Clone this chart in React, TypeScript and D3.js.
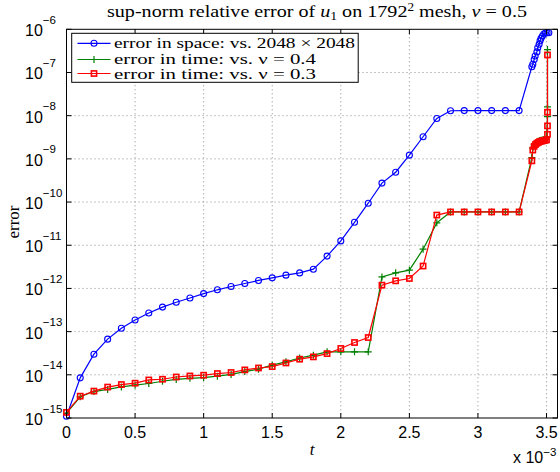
import React from "react";
import * as d3 from "d3";

// ---- data (t in units of 1e-3) ----
const spaceT = [0, 0.1, 0.2, 0.3, 0.4, 0.5, 0.6, 0.7, 0.8, 0.9, 1.0, 1.1, 1.2, 1.3, 1.4, 1.5, 1.6, 1.7, 1.8, 1.9, 2.0, 2.1, 2.2, 2.3, 2.4, 2.5, 2.6, 2.7, 2.8, 2.9, 3.0, 3.1, 3.2, 3.3,
  3.393, 3.4, 3.41, 3.417, 3.43, 3.436, 3.446, 3.453, 3.46, 3.47, 3.48, 3.492, 3.504, 3.517];
const spaceErr = [1.1e-15, 8.5e-15, 3.0e-14, 6.7e-14, 1.2e-13, 1.86e-13, 2.7e-13, 3.7e-13, 4.8e-13, 6.0e-13, 7.6e-13, 9.3e-13, 1.11e-12, 1.3e-12, 1.53e-12, 1.76e-12, 2.03e-12, 2.29e-12, 2.79e-12, 5.6e-12, 1.26e-11, 3.4e-11, 9.4e-11, 2.75e-10, 4.9e-10, 1.22e-9, 3.25e-9, 8.6e-9, 1.3e-8, 1.31e-8, 1.31e-8, 1.31e-8, 1.31e-8, 1.31e-8,
  1.36e-7, 1.55e-7, 2.0e-7, 2.4e-7, 3.0e-7, 3.75e-7, 4.5e-7, 5.4e-7, 6.2e-7, 7.0e-7, 7.8e-7, 8.2e-7, 8.3e-7, 8.3e-7];

const time04T = [0, 0.1, 0.2, 0.3, 0.4, 0.5, 0.6, 0.7, 0.8, 0.9, 1.0, 1.1, 1.2, 1.3, 1.4, 1.5, 1.6, 1.7, 1.8, 1.9, 2.0, 2.1, 2.2, 2.3, 2.4, 2.5, 2.6, 2.7, 2.8, 2.9, 3.0, 3.1, 3.2, 3.3,
  3.393, 3.4, 3.41, 3.42, 3.43, 3.44, 3.45, 3.46, 3.47, 3.48, 3.49, 3.5, 3.507, 3.507, 3.507];
const time04Err = [1.3e-15, 3.1e-15, 4.1e-15, 4.6e-15, 5.25e-15, 5.75e-15, 6.3e-15, 7.1e-15, 7.8e-15, 8.3e-15, 8.65e-15, 9.3e-15, 1.02e-14, 1.19e-14, 1.35e-14, 1.67e-14, 2.0e-14, 2.45e-14, 2.85e-14, 3.4e-14, 3.4e-14, 3.4e-14, 3.4e-14, 1.85e-12, 2.3e-12, 2.65e-12, 8.1e-12, 3.3e-11, 5.9e-11, 5.9e-11, 5.9e-11, 5.9e-11, 5.9e-11, 5.9e-11,
  1.07e-9, 1.8e-9, 2.1e-9, 2.3e-9, 2.45e-9, 2.55e-9, 2.65e-9, 2.7e-9, 2.75e-9, 2.8e-9, 2.85e-9, 2.9e-9, 9.5e-9, 1.6e-8, 3.4e-7];

const time03T = [0, 0.1, 0.2, 0.3, 0.4, 0.5, 0.6, 0.7, 0.8, 0.9, 1.0, 1.1, 1.2, 1.3, 1.4, 1.5, 1.6, 1.7, 1.8, 1.9, 2.0, 2.1, 2.2, 2.3, 2.4, 2.5, 2.6, 2.7, 2.8, 2.9, 3.0, 3.1, 3.2, 3.3,
  3.393, 3.4, 3.41, 3.42, 3.43, 3.44, 3.45, 3.46, 3.47, 3.48, 3.49, 3.5, 3.507, 3.507, 3.507, 3.507];
const time03Err = [1.35e-15, 3.2e-15, 4.2e-15, 5.2e-15, 5.95e-15, 6.4e-15, 7.6e-15, 7.9e-15, 8.9e-15, 9.4e-15, 9.8e-15, 1.07e-14, 1.13e-14, 1.3e-14, 1.44e-14, 1.55e-14, 1.88e-14, 2.3e-14, 2.6e-14, 3.1e-14, 4.07e-14, 5.6e-14, 7.3e-14, 1.19e-12, 1.5e-12, 1.7e-12, 3.3e-12, 5.0e-11, 5.9e-11, 5.9e-11, 5.9e-11, 5.9e-11, 5.9e-11, 5.9e-11,
  9.0e-10, 1.6e-9, 1.95e-9, 2.15e-9, 2.3e-9, 2.4e-9, 2.5e-9, 2.55e-9, 2.6e-9, 2.65e-9, 2.7e-9, 2.75e-9, 3.7e-9, 5.8e-9, 1.2e-8, 2.55e-7];

const xTicks = [0, 0.5, 1, 1.5, 2, 2.5, 3, 3.5];
const xTickLabels = ["0", "0.5", "1", "1.5", "2", "2.5", "3", "3.5"];
const yExponents = [-15, -14, -13, -12, -11, -10, -9, -8, -7, -6];

const legendLabels = ["error in space: vs. 2048 \u00d7 2048", "error in time: vs. \u03bd = 0.4", "error in time: vs. \u03bd = 0.3"];

const BLUE = "#0000ff";
const GREEN = "#008000";
const RED = "#ff0000";

const L = 66.5, R = 557.5, T = 29.3, B = 418;

export default function App() {
  const x = d3.scaleLinear().domain([0, 3.58]).range([L, R]);
  const y = d3.scaleLog().domain([1e-15, 1e-6]).range([B, T]);
  const line = d3.line<[number, number]>().x(d => x(d[0])).y(d => y(d[1]));
  const zip = (a: number[], b: number[]) => a.map((v, i) => [v, b[i]] as [number, number]);
  const blue = zip(spaceT, spaceErr);
  const green = zip(time04T, time04Err);
  const red = zip(time03T, time03Err);

  const circle = (cx: number, cy: number, c: string, k: string) => (
    <circle key={k} cx={cx} cy={cy} r={3} fill="none" stroke={c} strokeWidth={1.1} />
  );
  const plus = (cx: number, cy: number, c: string, k: string) => (
    <path key={k} d={`M${cx - 3.5},${cy}H${cx + 3.5}M${cx},${cy - 3.5}V${cy + 3.5}`} stroke={c} strokeWidth={1.2} />
  );
  const square = (cx: number, cy: number, c: string, k: string) => (
    <rect key={k} x={cx - 2.6} y={cy - 2.6} width={5.2} height={5.2} fill="none" stroke={c} strokeWidth={1.6} />
  );

  const sans = "'Liberation Sans', Arial, Helvetica, sans-serif";
  const serif = "'Liberation Serif', 'Times New Roman', serif";

  return (
    <svg width={560} height={472} style={{ position: "absolute", left: 0, top: 0, background: "#fff" }}>
      <rect x={0} y={0} width={560} height={472} fill="#fff" />
      {/* grid */}
      <g stroke="#8a8a8a" strokeWidth={1} strokeDasharray="1,3">
        {xTicks.slice(1).map((t, i) => (
          <line key={"gx" + i} x1={x(t)} x2={x(t)} y1={T} y2={B} />
        ))}
        {yExponents.slice(1, -1).map((e, i) => (
          <line key={"gy" + i} x1={L} x2={R} y1={y(Math.pow(10, e))} y2={y(Math.pow(10, e))} />
        ))}
      </g>
      {/* data */}
      <g fill="none">
        <path d={line(blue) || ""} stroke={BLUE} strokeWidth={1.2} />
        {blue.map((d, i) => circle(x(d[0]), y(d[1]), BLUE, "b" + i))}
        <path d={line(green) || ""} stroke={GREEN} strokeWidth={1.2} />
        {green.map((d, i) => plus(x(d[0]), y(d[1]), GREEN, "g" + i))}
        <path d={line(red) || ""} stroke={RED} strokeWidth={1.2} />
        {red.map((d, i) => square(x(d[0]), y(d[1]), RED, "r" + i))}
      </g>
      {/* axes box & ticks */}
      <rect x={L} y={T} width={R - L} height={B - T} fill="none" stroke="#000" strokeWidth={1} />
      <g stroke="#000" strokeWidth={1}>
        {xTicks.map((t, i) => (
          <g key={"xt" + i}>
            <line x1={x(t)} x2={x(t)} y1={B} y2={B - 5} />
            <line x1={x(t)} x2={x(t)} y1={T} y2={T + 5} />
          </g>
        ))}
        {yExponents.map((e, i) => (
          <g key={"yt" + i}>
            <line x1={L} x2={L + 5} y1={y(Math.pow(10, e))} y2={y(Math.pow(10, e))} />
            <line x1={R} x2={R - 5} y1={y(Math.pow(10, e))} y2={y(Math.pow(10, e))} />
          </g>
        ))}
      </g>
      {/* x tick labels */}
      <g fontFamily={sans} fontSize={16} fill="#000" textAnchor="middle">
        {xTicks.map((t, i) => (
          <text key={"xl" + i} x={x(t)} y={438}>{xTickLabels[i]}</text>
        ))}
      </g>
      {/* y tick labels */}
      <g fontFamily={sans} fill="#000">
        {yExponents.map((e, i) => (
          <text key={"yl" + i} x={25} y={y(Math.pow(10, e)) + 7} fontSize={16}>
            10<tspan fontSize={11.5} dy={-12.5}>{"\u2212" + Math.abs(e)}</tspan>
          </text>
        ))}
      </g>
      {/* exponent label */}
      <text x={513} y={463} fontFamily={sans} fontSize={16} fill="#000">
        x 10<tspan fontSize={11.5} dy={-7}>{"\u22123"}</tspan>
      </text>
      {/* axis labels */}
      <text x={312} y={455} fontFamily={serif} fontStyle="italic" fontSize={17} textAnchor="middle">t</text>
      <text transform="translate(19,222) rotate(-90)" fontFamily={serif} fontSize={17} textAnchor="middle">error</text>
      {/* title */}
      <text x={107} y={16.5} fontFamily={serif} fontSize={17.5} textLength={420} lengthAdjust="spacingAndGlyphs">
        sup-norm relative error of <tspan fontStyle="italic">u</tspan><tspan fontSize={12} dy={3}>1</tspan>
        <tspan dy={-3}> on 1792</tspan><tspan fontSize={11.5} dy={-6}>2</tspan><tspan dy={6}> mesh, </tspan>
        <tspan fontStyle="italic">{"\u03bd"}</tspan> = 0.5
      </text>
      {/* legend */}
      <rect x={71.7} y={33.3} width={286.5} height={49} fill="#fff" stroke="#000" strokeWidth={1} />
      {[BLUE, GREEN, RED].map((c, i) => {
        const ly = [43.3, 59.5, 73.5][i];
        return (
          <g key={"lg" + i}>
            <line x1={77.5} x2={110.5} y1={ly} y2={ly} stroke={c} strokeWidth={1.2} />
            {i === 0 ? circle(94, ly, c, "lc") : i === 1 ? plus(94, ly, c, "lp") : square(94, ly, c, "ls")}
          </g>
        );
      })}
      <g fontFamily={serif} fontSize={15} fill="#000">
        <text x={114} y={48} textLength={241} lengthAdjust="spacingAndGlyphs">{legendLabels[0]}</text>
        <text x={114} y={63.5} textLength={202} lengthAdjust="spacingAndGlyphs">{legendLabels[1]}</text>
        <text x={114} y={78.5} textLength={202} lengthAdjust="spacingAndGlyphs">{legendLabels[2]}</text>
      </g>
    </svg>
  );
}
